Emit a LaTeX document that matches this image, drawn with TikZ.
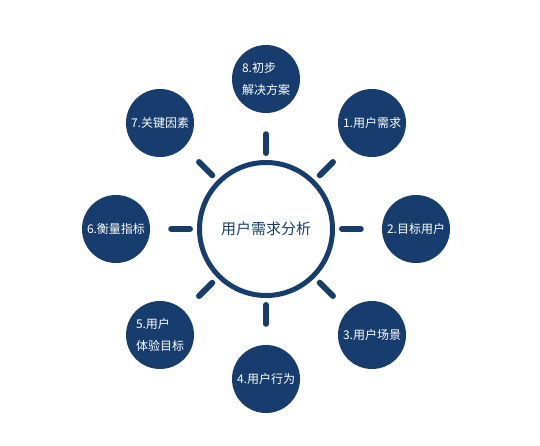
\documentclass[tikz,border=0pt]{standalone}
\usepackage{fontspec}
\setmainfont{Noto Sans CJK SC}
\usepackage{tikz}
\usetikzlibrary{positioning}
\definecolor{navy}{RGB}{23,61,110}
\tikzset{
    %Define style for the middle ring
    hub/.style={
           circle,
           draw=navy,
           line width=5pt,
           minimum size=133pt,
           inner sep=0pt,
           text=navy,
           font=\fontsize{15pt}{18pt}\selectfont},
    %Define style for the outer discs
    punkt/.style={
           circle,
           fill=navy,
           minimum size=68pt,
           inner sep=0pt,
           text=white,
           align=left,
           font=\fontsize{12pt}{22pt}\selectfont},
    % Define tick style
    pil/.style={
           color=navy,
           line width=6pt,
           line cap=round,
           shorten <=7pt,
           shorten >=21pt}
}
\begin{document}
\begin{tikzpicture}[x=1pt,y=-1pt,node distance=150pt and 150pt,on grid]

\useasboundingbox (0,0) rectangle (540,445);

\node[hub](0) at (266,229){用户需求分析};
\node[punkt, above=of 0](8){8.初步\\解决方案};
\node[punkt, above right=106pt and 106pt of 0](1){1.用户需求};
\node[punkt, right=of 0](2){2.目标用户};
\node[punkt, below right=106pt and 106pt of 0](3){3.用户场景};
\node[punkt, below=of 0](4){4.用户行为};
\node[punkt, below left=106pt and 106pt of 0](5){5.用户\\体验目标};
\node[punkt, left=of 0](6){6.衡量指标};
\node[punkt, above left=106pt and 106pt of 0](7){7.关键因素};

 \path[pil]
 	(0) edge (1)
 	    edge (2)
 	    edge (3)
 	    edge (4)
 	    edge (5)
 	    edge (6)
 	    edge (7)
 	    edge (8);

\end{tikzpicture}
\end{document}
